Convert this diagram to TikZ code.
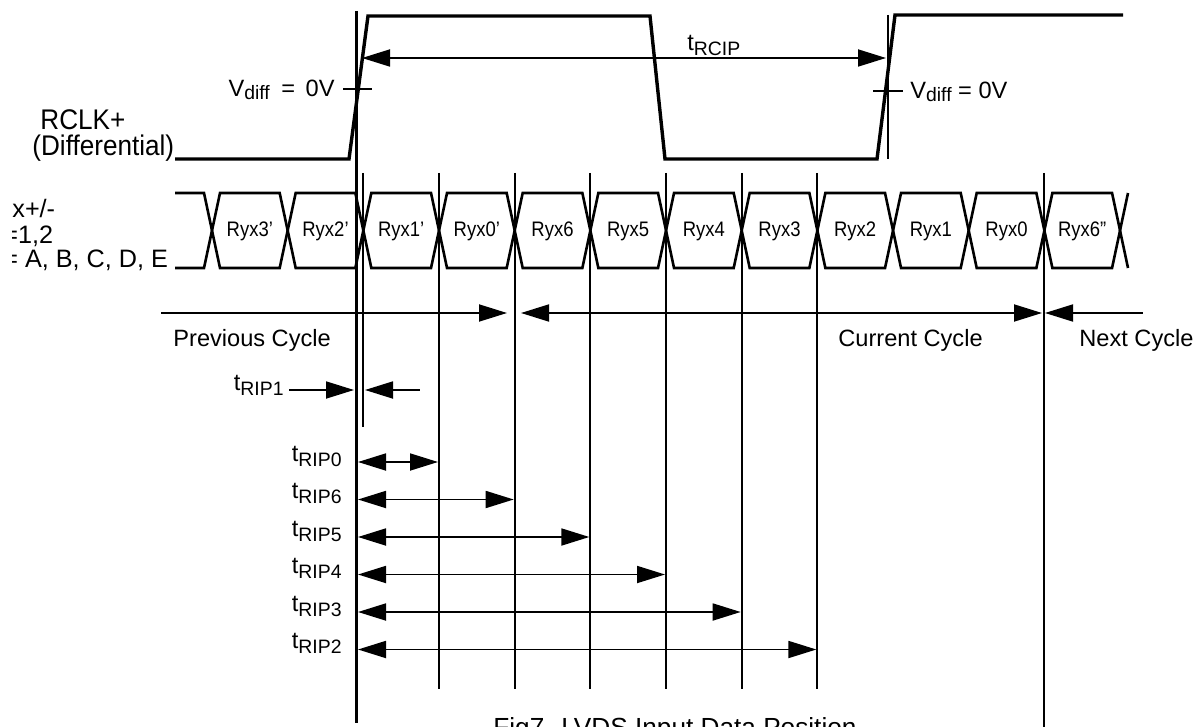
\documentclass[tikz,border=0pt]{standalone}
\usepackage{fontspec}
\setmainfont{Liberation Sans}
\newfontfamily\sidefont{Liberation Sans}[FakeStretch=0.92,Ligatures=TeX]
\newfontfamily\datafont{Liberation Sans}[FakeStretch=0.88,Ligatures=TeX]
\usetikzlibrary{arrows.meta}
\newcommand{\tsb}[1]{t\raisebox{-2.5pt}{\fontsize{9.7pt}{11pt}\selectfont #1}}
\newcommand{\vdf}{V\raisebox{-1.5pt}{\fontsize{9.7pt}{11pt}\selectfont diff}}
\begin{document}
\begin{tikzpicture}[x=0.5pt,y=-0.5pt,
  lbl/.style={font=\fontsize{11.8pt}{14pt}\selectfont, inner sep=0pt},
  sidelbl/.style={font=\sidefont\fontsize{14.2pt}{16pt}\selectfont, inner sep=0pt},
  buslbl/.style={font=\fontsize{12.6pt}{15pt}\selectfont, inner sep=0pt},
  dlbl/.style={font=\datafont\fontsize{10.5pt}{12pt}\selectfont, inner sep=0pt},
  sig/.style={line width=1.7pt, line join=miter},
  bus/.style={line width=1.3pt, line join=miter},
  vthick/.style={line width=1.5pt},
  vthin/.style={line width=1pt},
  tickmark/.style={line width=0.9pt},
  arr/.style={line width=0.9pt},
  Tri/.tip={Triangle[length=14pt,width=8.5pt]}
]
\useasboundingbox (0,0) rectangle (1204,727);

% ---------- signal names ----------
\node[sidelbl, anchor=base west] (rclk) at (40,130) {RCLK+};
\node[sidelbl, anchor=base west] (diffl) at (32,156) {(Differential)};
\begin{scope}
  \clip (12,180) rectangle (200,285);
  \node[buslbl, anchor=base west] (sa) at (12,218) {x+/-};
  \node[buslbl, anchor=base west] (sb) at (3,243) {=1,2};
  \node[buslbl, anchor=base west] (sc) at (3,268) {= A, B, C, D, E};
\end{scope}

% ---------- clock ----------
\coordinate (c0) at (175,159);
\coordinate (c1) at (349,159);
\coordinate (c2) at (368,16);
\coordinate (c3) at (650,16);
\coordinate (c4) at (665,159);
\coordinate (c5) at (877,159);
\coordinate (c6) at (895,15);
\coordinate (c7) at (1123,15);
\draw[sig] (c0) -- (c1) -- (c2) -- (c3) -- (c4) -- (c5) -- (c6) -- (c7);

% edge reference lines
\coordinate (m0) at (356,11);
\coordinate (m1) at (356,723);
\draw[vthick] (m0) -- (m1);
\coordinate (r0) at (888,15);
\coordinate (r1) at (888,159);
\draw[vthin] (r0) -- (r1);

% Vdiff ticks and labels
\coordinate (tl0) at (343,89);
\coordinate (tl1) at (372,89);
\draw[tickmark] (tl0) -- (tl1);
\coordinate (tr0) at (873,91);
\coordinate (tr1) at (903,91);
\draw[tickmark] (tr0) -- (tr1);
\node[lbl, anchor=base east] (vdl) at (335,97) {\vdf\hspace{2.5pt} = \hspace{2pt}0V};
\node[lbl, anchor=base west] (vdr) at (910,99) {\vdf{} = 0V};

% tRCIP
\coordinate (rc0) at (362,58);
\coordinate (rc1) at (886,58);
\draw[arr, {Tri}-{Tri}] (rc0) -- (rc1);
\node[lbl, anchor=base west] (trcip) at (687,51) {\tsb{RCIP}};

% ---------- data bus ----------
\coordinate (b0) at (175,193);
\coordinate (b1) at (175,268);
\draw[bus] (b0) -- (204,193) -- (212,230.5) -- (204,268) -- (b1);
\foreach \k in {0,...,11} {
  \pgfmathsetmacro\a{212+75.67*\k}
  \pgfmathsetmacro\b{212+75.67*(\k+1)}
  \draw[bus] (\a,230.5) -- (\a+8,193) -- (\b-8,193) -- (\b,230.5) -- (\b-8,268) -- (\a+8,268) -- cycle;
}
\draw[bus] (1128,193) -- (1120,230.5) -- (1128,268);
\foreach \k/\t in {0/Ryx3',1/Ryx2',2/Ryx1',3/Ryx0',4/Ryx6,5/Ryx5,6/Ryx4,7/Ryx3,8/Ryx2,9/Ryx1,10/Ryx0,11/Ryx6''} {
  \node[dlbl] (d\k) at ({212+75.67*(\k+0.5)},231) {\t};
}

% vertical data-edge lines
\draw[vthin] (363,173) -- (363,427);
\foreach \k in {3,...,8} {
  \draw[vthin] ({212+75.67*\k},173) -- ({212+75.67*\k},689);
}
\draw[vthin] (1044,173) -- (1044,730);

% ---------- cycles ----------
\coordinate (p0) at (161,313);
\coordinate (p1) at (507,313);
\draw[arr, -{Tri}] (p0) -- (p1);
\coordinate (q0) at (521,313);
\coordinate (q1) at (1042,313);
\draw[arr, {Tri}-{Tri}] (q0) -- (q1);
\coordinate (n0) at (1045,313);
\coordinate (n1) at (1143,313);
\draw[arr, {Tri}-] (n0) -- (n1);
\node[lbl, anchor=base west] (prev) at (173,346) {Previous Cycle};
\node[lbl, anchor=base west] (curr) at (838,346) {Current Cycle};
\node[lbl, anchor=base west] (next) at (1079,346) {Next Cycle};

% ---------- tRIP1 ----------
\node[lbl, anchor=base east] (rip1) at (284,390) {\tsb{RIP1}};
\coordinate (s0) at (354,390);
\coordinate (s1) at (365,390);
\coordinate (s2) at (420,390);
\draw[arr, -{Tri}] (rip1.east |- s0) ++(5,0) -- (s0);
\draw[arr, {Tri}-] (s1) -- (s2);

% ---------- tRIPn ----------
\foreach \i/\n/\k in {0/0/3,1/6/4,2/5/5,3/4/6,4/3/7,5/2/8} {
  \pgfmathsetmacro\yy{462+37.5*\i}
  \pgfmathsetmacro\xx{212+75.67*\k-1}
  \node[lbl, anchor=base east] (rip\n) at (342,\yy-1) {\tsb{RIP\n}};
  \coordinate (ra\n) at (358,\yy);
  \coordinate (rb\n) at (\xx,\yy);
  \draw[arr, {Tri}-{Tri}] (ra\n) -- (rb\n);
}

% ---------- caption ----------
\node[font=\fontsize{13.1pt}{15pt}\selectfont, inner sep=0pt, anchor=base west] (cap) at (493,736) {Fig7. LVDS Input Data Position};
\end{tikzpicture}
\end{document}
